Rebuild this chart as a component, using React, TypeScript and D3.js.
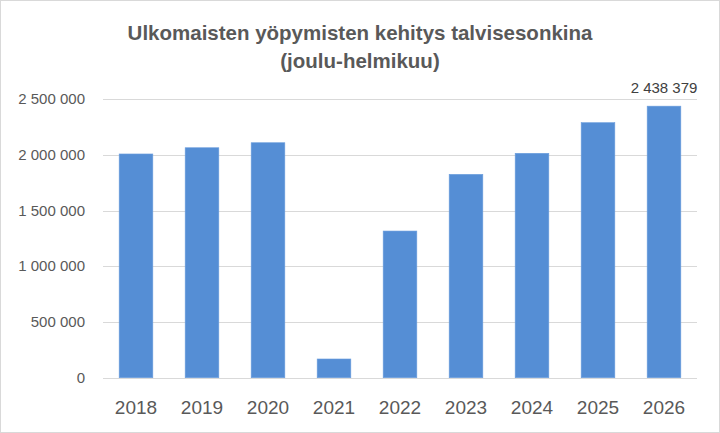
import React, { useEffect, useRef } from 'react';
import * as d3 from 'd3';

// data
const years: string[] = ['2018', '2019', '2020', '2021', '2022', '2023', '2024', '2025', '2026'];
const stays: number[] = [2009000, 2065000, 2110000, 168000, 1317000, 1826000, 2015000, 2290000, 2438379];
const yTicks: number[] = [0, 500000, 1000000, 1500000, 2000000, 2500000];
const titleLines: string[] = ['Ulkomaisten yöpymisten kehitys talvisesonkina', '(joulu-helmikuu)'];

const W = 720;
const H = 433;
const FONT = '"Liberation Sans", Arial, sans-serif';

// finnish style thousands: space separator
const fmt = (v: number) => d3.format(',')(v).replace(/,/g, ' ');

const App = () => {
  const ref = useRef<SVGSVGElement>(null);

  useEffect(() => {
    const svg = d3.select(ref.current);
    svg.selectAll('*').remove();

    const plot = { left: 103, right: 697, top: 99.3, bottom: 377.7 };

    const x = d3.scaleBand<string>()
      .domain(years)
      .range([plot.left, plot.right])
      .paddingInner(0.49)
      .paddingOuter(0.245);

    const y = d3.scaleLinear().domain([0, 2500000]).range([plot.bottom, plot.top]);

    // outer frame
    svg.append('rect')
      .attr('x', 0.5).attr('y', 0.5)
      .attr('width', W - 1).attr('height', H - 1)
      .attr('fill', '#fff')
      .attr('stroke', '#d9d9d9');

    // title
    svg.append('g')
      .selectAll('text')
      .data(titleLines)
      .enter().append('text')
      .attr('x', 360)
      .attr('y', (d, i) => 40 + i * 28)
      .attr('text-anchor', 'middle')
      .attr('font-family', FONT)
      .attr('font-weight', 'bold')
      .attr('font-size', 20.5)
      .attr('fill', '#595959')
      .text(d => d);

    // gridlines
    svg.append('g')
      .selectAll('line')
      .data(yTicks)
      .enter().append('line')
      .attr('x1', plot.left).attr('x2', plot.right)
      .attr('y1', d => Math.round(y(d)) + 0.5)
      .attr('y2', d => Math.round(y(d)) + 0.5)
      .attr('stroke', '#d9d9d9')
      .attr('stroke-width', 1);

    // y labels
    svg.append('g')
      .selectAll('text')
      .data(yTicks)
      .enter().append('text')
      .attr('x', 85)
      .attr('y', d => y(d) + 5)
      .attr('text-anchor', 'end')
      .attr('font-family', FONT)
      .attr('font-size', 15)
      .attr('fill', '#595959')
      .text(d => fmt(d));

    // bars
    svg.append('g')
      .selectAll('rect')
      .data(stays)
      .enter().append('rect')
      .attr('x', (d, i) => x(years[i]) as number)
      .attr('y', d => y(d))
      .attr('width', x.bandwidth())
      .attr('height', d => plot.bottom - y(d))
      .attr('fill', '#558ed5')
      .attr('stroke', '#6b9ddd')
      .attr('stroke-width', 0.6);

    // x labels
    svg.append('g')
      .selectAll('text')
      .data(years)
      .enter().append('text')
      .attr('x', d => (x(d) as number) + x.bandwidth() / 2)
      .attr('y', 414)
      .attr('text-anchor', 'middle')
      .attr('font-family', FONT)
      .attr('font-size', 19)
      .attr('fill', '#595959')
      .text(d => d);

    // value label only on the last bar
    const last = stays.length - 1;
    svg.append('text')
      .attr('x', (x(years[last]) as number) + x.bandwidth() / 2)
      .attr('y', y(stays[last]) - 13)
      .attr('text-anchor', 'middle')
      .attr('font-family', FONT)
      .attr('font-size', 15)
      .attr('fill', '#404040')
      .text(fmt(stays[last]));
  }, []);

  return (
    <svg
      ref={ref}
      width={W}
      height={H}
      style={{ position: 'absolute', left: 0, top: 0, display: 'block' }}
    />
  );
};

export default App;
